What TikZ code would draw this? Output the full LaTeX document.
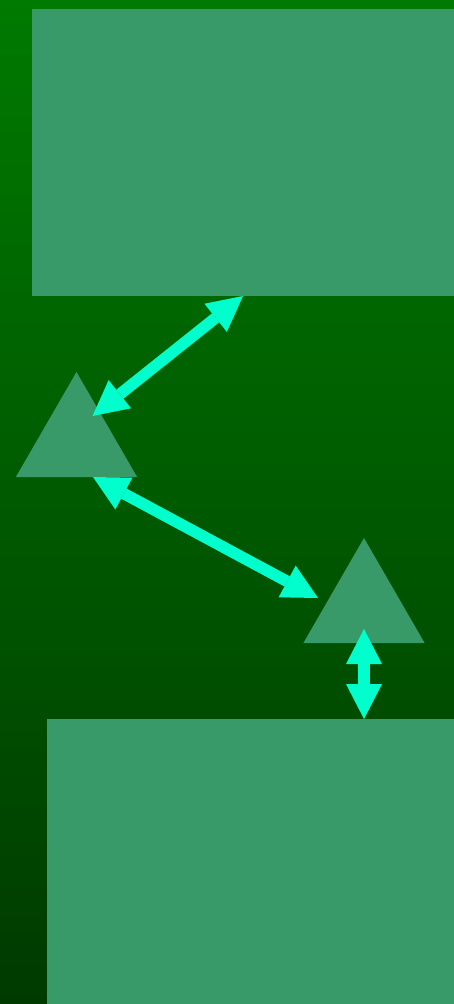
\documentclass[tikz,border=0pt]{standalone}
\usetikzlibrary{arrows.meta,calc,shapes.geometric}
\definecolor{tile}{HTML}{389A69}
\definecolor{beam}{HTML}{00FFCC}
\definecolor{deeptop}{HTML}{007A00}
\definecolor{deepbot}{HTML}{003A00}
\tikzset{
  panel/.style={fill=tile,draw=none,inner sep=0pt,outer sep=0pt,anchor=north west},
  peak/.style={regular polygon,regular polygon sides=3,fill=tile,draw=none,
    inner sep=0pt,outer sep=0pt,minimum size=140pt},
  link/.style={{Triangle[length=35pt,width=36pt,line width=0pt]}-{Triangle[length=35pt,width=36pt,line width=0pt]},
    draw=beam,line width=11.5pt}}

\begin{document}
\begin{tikzpicture}[x=1pt,y=-1pt]
\shade[top color=deeptop,bottom color=deepbot](0,0)rectangle(454,1004);
\useasboundingbox(0,0)rectangle(454,1004);
% boxes and peaks
\node[panel,minimum width=422pt,minimum height=287pt](upper)at(32,9){};
\node[panel,minimum width=407pt,minimum height=285pt](lower)at(47,719){};
\node[peak](left)at(76.5,442){};
\node[peak](right)at(364,608){};
% free ends of the links
\coordinate(lefttip)at($(left.center)+(16,-26)$);
\coordinate(leftfoot)at($(left.south)+(16.5,0)$);
\coordinate(righttip)at($(right.center)+(-46,-10)$);
\draw[link](upper.south)--(lefttip);
\draw[link](leftfoot)--(righttip);
\draw[link]([yshift=14pt]right.south)--(right.south|-lower.north);
\end{tikzpicture}
\end{document}
